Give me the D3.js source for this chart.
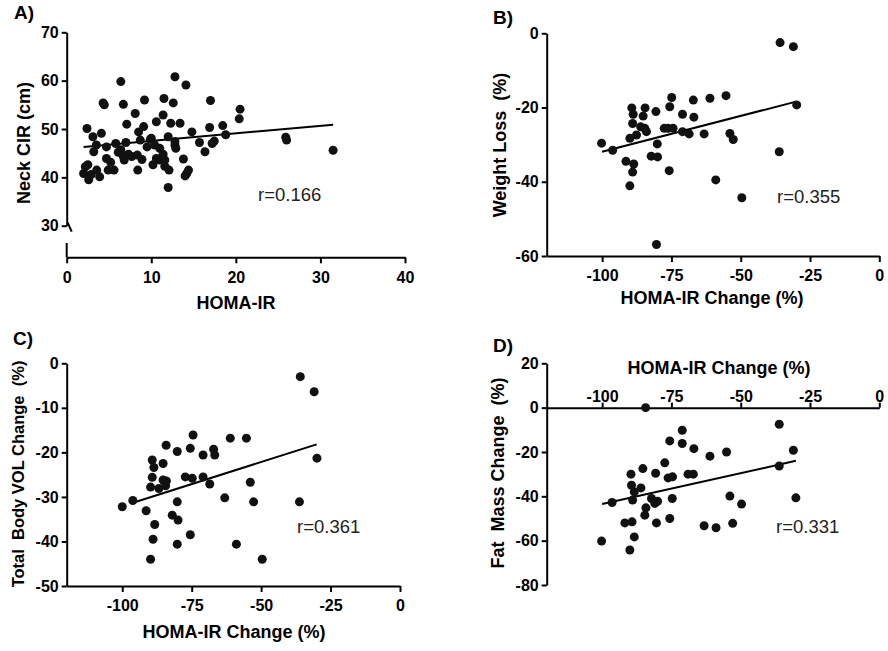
<!DOCTYPE html>
<html><head><meta charset="utf-8">
<script src="https://cdn.jsdelivr.net/npm/d3@7"></script>
<style>
body{margin:0;background:#fff;}
svg{display:block;font-family:"Liberation Sans",Arial,sans-serif;}
</style></head><body>
<svg id="c" width="888" height="651"></svg>
<script>
// ---------- DATA ----------
const xTicksA = [0, 10, 20, 30, 40];
const yTicksA = [30, 40, 50, 60, 70];
const xTicksChange = [-100, -75, -50, -25, 0];
const yTicksB = [-60, -40, -20, 0];
const yTicksC = [-50, -40, -30, -20, -10, 0];
const yTicksD = [-80, -60, -40, -20, 0, 20];

// Panel A: HOMA-IR vs Neck CIR (cm)
const pointsA = [
 [2.4,50.1],[3.1,48.4],[4.1,49.1],[3.5,46.7],[3.2,45.3],[4.7,46.3],[4.7,43.9],[5.8,47.0],
 [7.0,47.2],[7.1,51.0],[6.4,45.7],[6.7,44.3],[7.7,44.3],[8.35,44.6],[8.9,43.7],[8.4,41.5],
 [8.1,53.2],[9.2,56.0],[6.4,59.8],[4.3,55.4],[4.45,55.0],[6.7,55.1],[8.5,49.4],[9.1,50.5],
 [8.7,47.7],[9.5,46.3],[9.9,47.9],[10.6,51.5],[11.4,52.9],[11.5,56.3],[12.6,55.4],[12.8,60.8],
 [14.1,59.1],[12.3,51.2],[13.4,51.2],[12.0,48.4],[12.8,46.7],[12.9,46.0],[11.0,46.0],[11.4,44.8],
 [10.6,43.9],[10.2,42.6],[11.0,43.6],[11.6,43.6],[11.6,42.3],[12.1,41.5],[12.0,37.9],[13.8,43.8],
 [14.4,41.5],[14.2,40.8],[14.0,40.3],[14.8,49.4],[15.7,47.2],[16.35,45.3],[16.9,50.3],[17.0,55.9],
 [17.45,47.5],[17.2,47.0],[18.45,50.7],[18.8,48.8],[20.5,54.1],[20.4,52.1],[2.2,42.2],[2.0,40.8],
 [2.6,39.5],[3.55,41.5],[3.9,40.1],[4.9,41.5],[5.6,41.5],[25.9,48.3],[26.0,47.7],[31.5,45.6],
 [10.0,48.1],[10.4,46.7],[12.8,47.4],[5.2,43.1],[6.8,43.6],[7.3,44.8],[6.1,45.2],[2.5,42.6],[2.9,40.6]
];
const fitA = [[2.0,46.3],[31.5,50.9]];

// Panel B: HOMA-IR change vs weight loss (%)
const pointsB = [
 [-35.8,-2.5],[-31.0,-3.6],[-29.8,-19.3],[-36.1,-31.9],[-49.6,-44.3],[-59.0,-39.5],[-80.4,-56.9],
 [-100.2,-29.6],[-96.2,-31.5],[-91.4,-34.5],[-88.6,-35.2],[-89.0,-37.4],[-90.0,-41.1],[-75.8,-37.0],
 [-82.3,-33.1],[-80.0,-33.3],[-80.1,-29.8],[-89.3,-20.1],[-88.8,-21.8],[-84.5,-20.1],[-85.2,-22.3],
 [-89.0,-24.3],[-86.1,-25.2],[-84.6,-25.6],[-84.0,-26.5],[-87.6,-27.4],[-90.0,-28.3],[-80.6,-21.1],
 [-74.9,-17.3],[-75.6,-19.8],[-77.6,-25.6],[-76.2,-25.6],[-74.4,-25.6],[-71.0,-21.8],[-71.0,-26.5],
 [-68.6,-27.1],[-66.9,-22.6],[-67.1,-18.0],[-63.2,-27.1],[-61.1,-17.5],[-55.3,-16.8],[-53.9,-27.0],
 [-52.7,-28.6]
];
const fitB = [[-100,-31.9],[-30,-18.4]];

// Panel C: HOMA-IR change vs total body VOL change (%)
const pointsC = [
 [-35.9,-3.0],[-30.9,-6.4],[-29.9,-21.3],[-36.2,-31.1],[-49.6,-44.0],[-58.9,-40.6],[-52.7,-31.1],
 [-53.9,-26.7],[-55.3,-16.8],[-61.1,-16.8],[-63.1,-30.2],[-68.5,-27.1],[-66.7,-20.6],[-67.1,-19.3],
 [-70.9,-20.6],[-70.9,-25.5],[-74.5,-16.1],[-75.5,-19.1],[-74.8,-25.8],[-77.3,-25.5],[-80.2,-19.8],
 [-84.2,-18.4],[-80.2,-31.1],[-82.0,-34.1],[-79.9,-35.2],[-75.5,-38.5],[-80.2,-40.6],[-89.8,-44.0],
 [-88.9,-39.5],[-88.3,-36.2],[-91.4,-33.1],[-100,-32.2],[-96.2,-30.8],[-89.2,-21.7],[-88.6,-23.4],
 [-85.3,-22.5],[-89.2,-25.6],[-85.3,-26.2],[-84.1,-26.4],[-89.8,-27.8],[-86.8,-28.1],[-84.4,-27.5]
];
const fitC = [[-95,-31.1],[-30,-18.2]];

// Panel D: HOMA-IR change vs fat mass change (%)
const pointsD = [
 [-84.3,0],[-36.1,-7.5],[-31.0,-19.2],[-36.1,-26.3],[-30.1,-40.7],[-49.7,-43.5],[-53.9,-39.9],
 [-52.9,-52.2],[-58.9,-54.2],[-63.2,-53.3],[-55.1,-20.0],[-61.1,-21.9],[-66.9,-18.5],[-71.1,-10.2],
 [-71.1,-16.2],[-75.6,-15.0],[-77.4,-24.9],[-80.7,-29.6],[-85.3,-27.5],[-89.6,-30.0],[-76.2,-31.7],
 [-74.6,-31.2],[-69.0,-30.0],[-67.1,-30.0],[-74.7,-41.0],[-89.4,-35.0],[-86.0,-36.2],[-88.4,-38.0],
 [-89.0,-41.7],[-96.4,-42.8],[-82.2,-41.0],[-80.0,-42.2],[-81.0,-43.2],[-84.2,-45.2],[-84.6,-48.5],
 [-91.8,-52.0],[-89.2,-51.5],[-80.4,-52.0],[-75.6,-50.0],[-88.4,-58.3],[-100.2,-60.2],[-90.0,-64.2]
];
const fitD = [[-100,-43.5],[-30.1,-24.0]];

// ---------- DRAW ----------
const svg = d3.select("#c");
const FONT_TICK = "16px", FONT_TITLE = "18px";
const fmt = d => String(d); // plain hyphen-minus as in the reference

function styleAxis(g){
  g.selectAll("path.domain").attr("stroke","#000").attr("stroke-width",2);
  g.selectAll(".tick line").attr("stroke","#000").attr("stroke-width",2);
  g.selectAll(".tick text").attr("fill","#000").style("font-size",FONT_TICK).style("font-weight","bold")
   .style("font-family",'"Liberation Sans",Arial,sans-serif');
}

function panel(cfg){
  const g = svg.append("g");
  const x = d3.scaleLinear().domain(cfg.xDomain).range([cfg.left, cfg.right]);
  const y = d3.scaleLinear().domain(cfg.yDomain).range([cfg.bottom, cfg.top]);

  // y axis
  const ya = g.append("g").attr("transform",`translate(${cfg.left},0)`)
    .call(d3.axisLeft(y).tickValues(cfg.yTicks).tickFormat(fmt).tickSize(5).tickPadding(3).tickSizeOuter(0));
  styleAxis(ya);
  if (cfg.yExtend) {
    g.append("line").attr("x1",cfg.left).attr("x2",cfg.left)
      .attr("y1",cfg.yExtend[0]).attr("y2",cfg.yExtend[1]).attr("stroke","#000").attr("stroke-width",2);
  }
  if (cfg.breakMark) {
    g.append("line").attr("x1",cfg.left+1).attr("y1",y(cfg.yDomain[0])-3)
      .attr("x2",cfg.left+5).attr("y2",y(cfg.yDomain[0])+6).attr("stroke","#000").attr("stroke-width",2);
  }

  // x axis
  const xAxisY = cfg.xAxisAt !== undefined ? y(cfg.xAxisAt) : cfg.xAxisY;
  const axisGen = cfg.xTop ? d3.axisTop(x).tickSize(5).tickPadding(1) : d3.axisBottom(x).tickSize(6).tickPadding(8);
  const xa = g.append("g").attr("transform",`translate(0,${xAxisY})`)
    .call(axisGen.tickValues(cfg.xTicks).tickFormat(fmt).tickSizeOuter(0));
  styleAxis(xa);

  // fit line
  g.append("line")
    .attr("x1",x(cfg.fit[0][0])).attr("y1",y(cfg.fit[0][1]))
    .attr("x2",x(cfg.fit[1][0])).attr("y2",y(cfg.fit[1][1]))
    .attr("stroke","#000").attr("stroke-width",2);

  // points
  g.append("g").selectAll("circle").data(cfg.points).join("circle")
    .attr("cx",d=>x(d[0])).attr("cy",d=>y(d[1])).attr("r",4.5).attr("fill","#111");

  // texts
  g.append("text").attr("x",cfg.label[1]).attr("y",cfg.label[2]).text(cfg.label[0])
    .style("font-size","19px").style("font-weight","bold");
  g.append("text").attr("x",cfg.xTitle[1]).attr("y",cfg.xTitle[2]).attr("text-anchor","middle")
    .text(cfg.xTitle[0]).style("font-size",FONT_TITLE).style("font-weight","bold");
  g.append("text").attr("transform",`translate(${cfg.yTitle[1]},${cfg.yTitle[2]}) rotate(-90)`)
    .attr("text-anchor","middle").attr("dy","0.35em").attr("xml:space","preserve")
    .style("white-space","pre")
    .text(cfg.yTitle[0]).style("font-size",cfg.yTitle[3]||FONT_TITLE).style("font-weight","bold");
  g.append("text").attr("x",cfg.r[1]).attr("y",cfg.r[2]).text(cfg.r[0])
    .style("font-size","18.5px").attr("fill","#222");
}

panel({left:66.7,right:405,top:32.3,bottom:225.7,xDomain:[0,40],yDomain:[30,70],
  xTicks:xTicksA,yTicks:yTicksA,xAxisY:257.3,yExtend:[243,257.3],breakMark:true,
  points:pointsA,fit:fitA,label:["A)",14,19],xTitle:["HOMA-IR",236,309],
  yTitle:["Neck CIR (cm)",24,143],r:["r=0.166",258,201]});

panel({left:546.7,right:879.3,top:33.3,bottom:256,xDomain:[-120,0],yDomain:[-60,0],
  xTicks:xTicksChange,yTicks:yTicksB,xAxisAt:-60,
  points:pointsB,fit:fitB,label:["B)",493,24],xTitle:["HOMA-IR Change (%)",712,304],
  yTitle:["Weight Loss  (%)",500,145],r:["r=0.355",777,203]});

panel({left:66.7,right:400,top:363.3,bottom:586,xDomain:[-120,0],yDomain:[-50,0],
  xTicks:xTicksChange,yTicks:yTicksC,xAxisAt:-50,
  points:pointsC,fit:fitC,label:["C)",13,345],xTitle:["HOMA-IR Change (%)",234,638],
  yTitle:["Total  Body VOL Change  (%)",18.5,474,"16.5px"],r:["r=0.361",297,533]});

panel({left:546.7,right:879.3,top:363.3,bottom:585,xDomain:[-120,0],yDomain:[-80,20],
  xTicks:xTicksChange,yTicks:yTicksD,xAxisAt:0,xTop:true,
  points:pointsD,fit:fitD,label:["D)",493,352],xTitle:["HOMA-IR Change (%)",719,374],
  yTitle:["Fat  Mass Change  (%)",498,473],r:["r=0.331",776,533]});
</script>
</body></html>
